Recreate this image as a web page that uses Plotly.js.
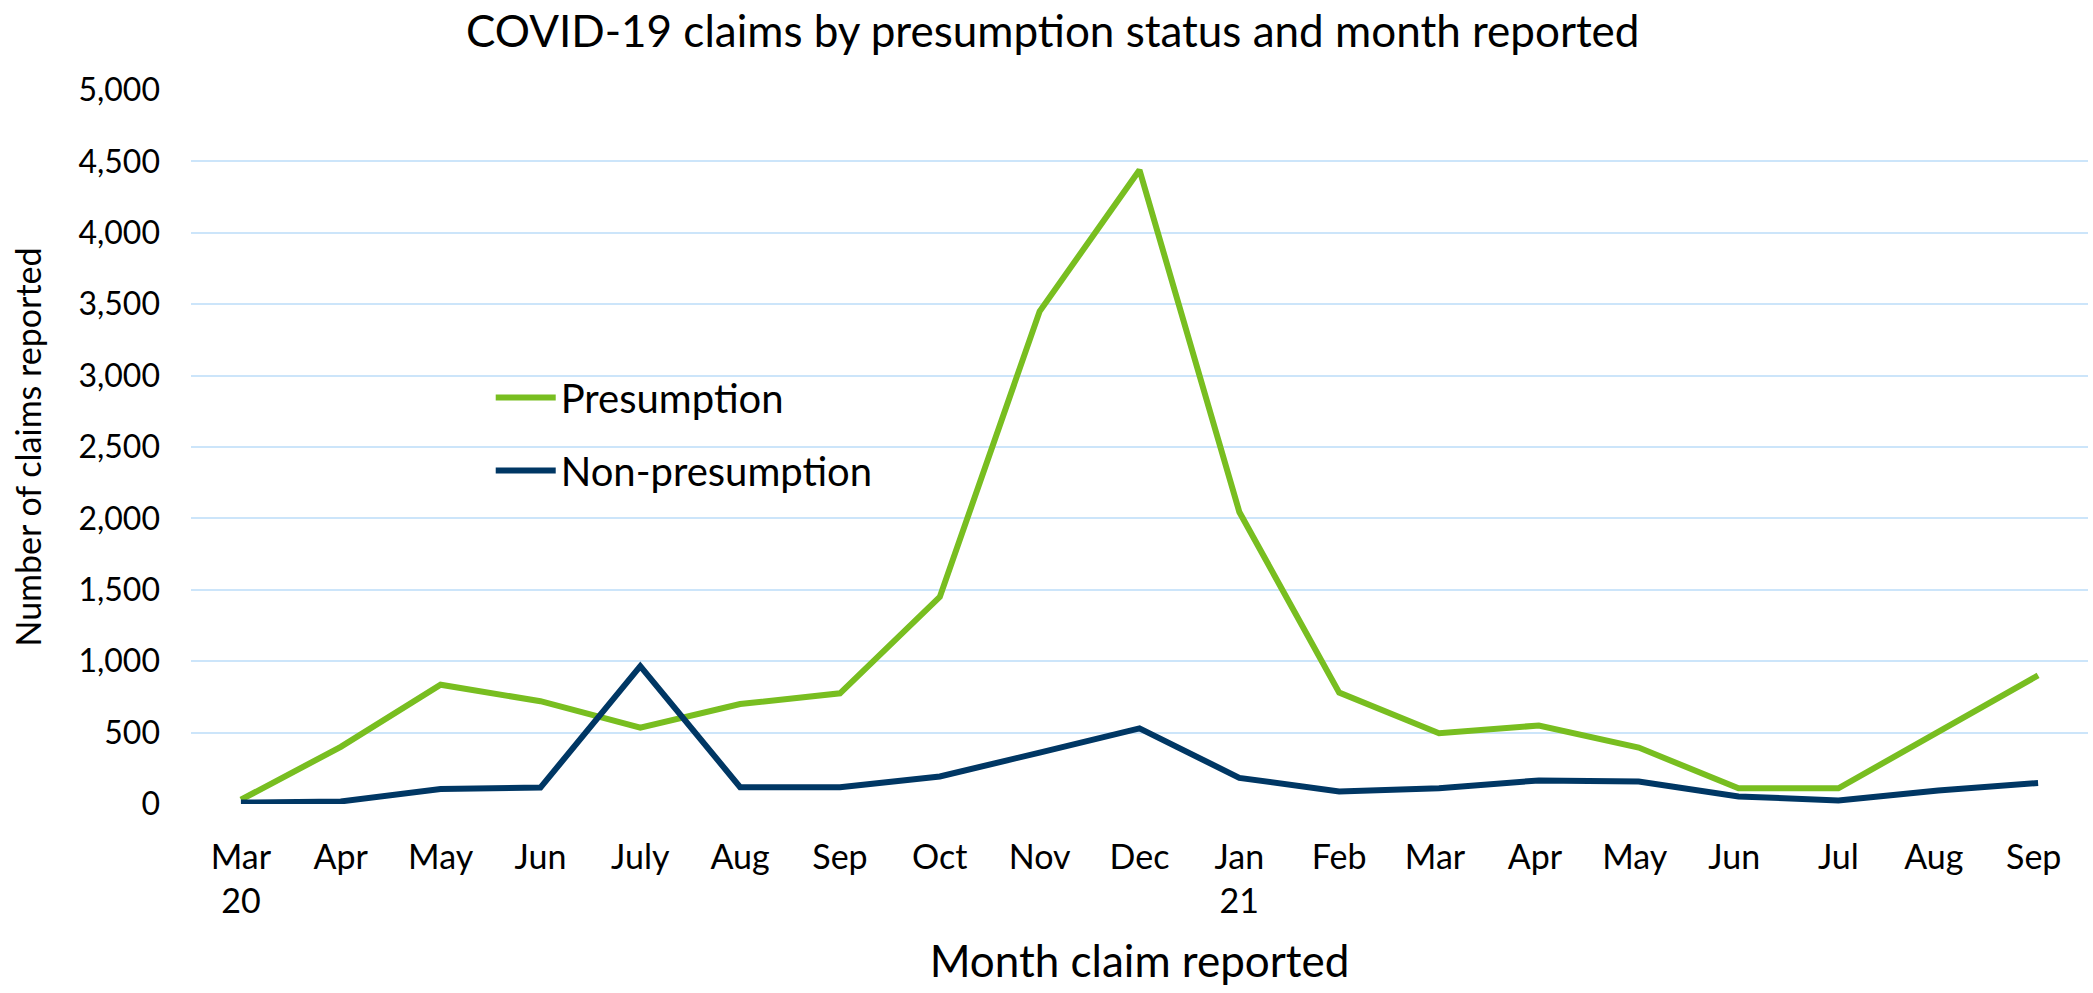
<!DOCTYPE html>
<html>
<head>
<meta charset="utf-8">
<script src="https://cdn.plot.ly/plotly-3.0.1.min.js"></script>
<style>html,body{margin:0;padding:0;background:#fff;}#chart{width:2093px;height:993px;}</style>
</head>
<body>
<div id="chart"></div>
<script>
const months = ["Mar<br>20","Apr","May","Jun","July","Aug","Sep","Oct","Nov","Dec","Jan<br>21","Feb","Mar ","Apr ","May ","Jun ","Jul","Aug ","Sep "];
const presumption = [30, 400, 835, 720, 535, 700, 775, 1450, 3450, 4440, 2045, 780, 495, 550, 395, 110, 110, 500, 900];
const nonPresumption = [10, 18, 105, 115, 965, 118, 118, 193, 360, 530, 183, 88, 110, 165, 158, 53, 25, 95, 147];
const yTicks = [0, 500, 1000, 1500, 2000, 2500, 3000, 3500, 4000, 4500, 5000];

const FONT = "Lato, 'Open Sans', sans-serif";

const traces = [
  {x: months, y: presumption, type: "scatter", mode: "lines", name: "Presumption",
   legendgroup: "a", line: {color: "#78BE20", width: 6}},
  {x: months, y: nonPresumption, type: "scatter", mode: "lines", name: "Non-presumption",
   legendgroup: "b", line: {color: "#003764", width: 6}}
];

const layout = {
  width: 2093, height: 993,
  margin: {l: 191, r: 5, t: 90, b: 189},
  paper_bgcolor: "#ffffff", plot_bgcolor: "#ffffff",
  font: {family: FONT, color: "#000000"},
  title: {text: "COVID-19 claims by presumption status and month reported",
          font: {family: FONT, size: 44, color: "#000"},
          x: 0.503, xref: "container", xanchor: "center",
          y: 0.984, yref: "container", yanchor: "top"},
  xaxis: {type: "category", categoryarray: months, range: [-0.5, 18.5],
          showgrid: false, zeroline: false, showline: false, ticks: "",
          tickfont: {family: FONT, size: 34, color: "#000"},
          ticklabelstandoff: 30,
          title: {text: "Month claim reported", font: {family: FONT, size: 44, color: "#000"}, standoff: 26},
          automargin: false},
  yaxis: {range: [0, 5000], tickvals: yTicks, tickformat: ",d",
          showgrid: true, gridcolor: "#CCE5FA", gridwidth: 2,
          zeroline: false, showline: false, ticks: "",
          tickfont: {family: FONT, size: 32, color: "#000"},
          ticklabelstandoff: 30,
          title: {text: "Number of claims reported", font: {family: FONT, size: 34, color: "#000"}, standoff: 26},
          automargin: false},
  showlegend: true,
  legend: {x: 0.158, y: 0.615, xanchor: "left", yanchor: "top", itemwidth: 60,
           bgcolor: "rgba(0,0,0,0)", font: {family: FONT, size: 40, color: "#000"},
           tracegroupgap: 18, traceorder: "grouped"}
};

Plotly.newPlot("chart", traces, layout, {displayModeBar: false, staticPlot: true});
</script>
</body>
</html>
